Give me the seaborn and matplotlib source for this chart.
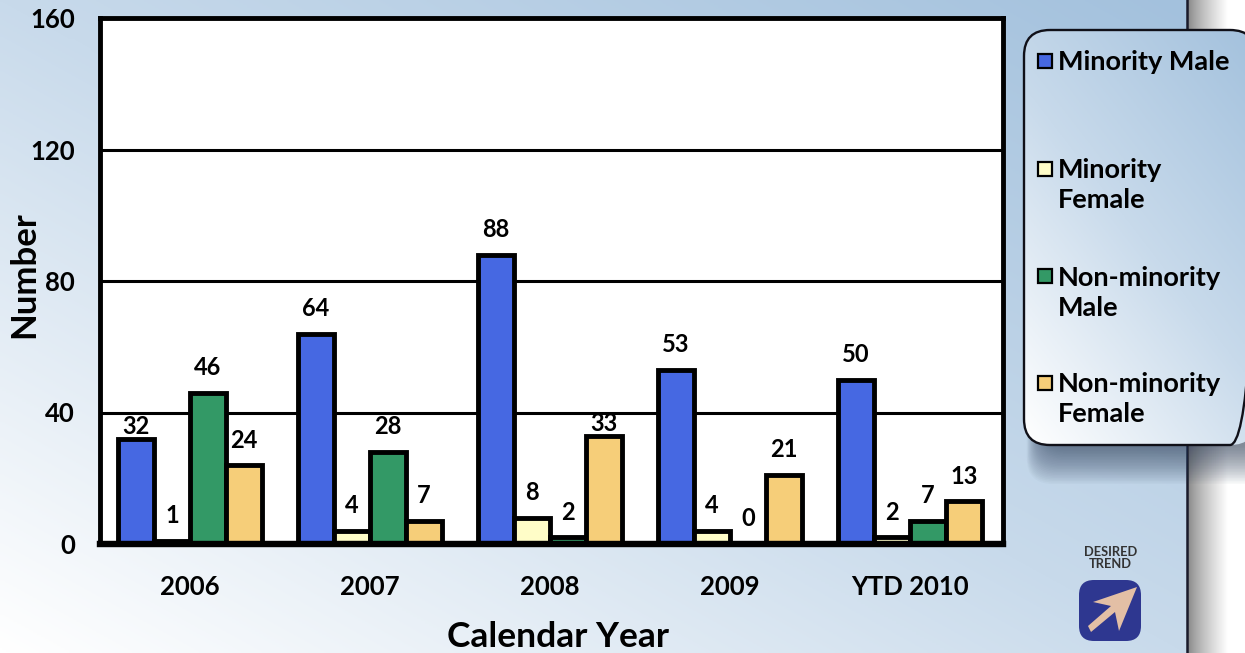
import numpy as np
import pandas as pd
import seaborn as sns
import matplotlib
matplotlib.use("Agg")
import matplotlib.pyplot as plt
from matplotlib.colors import LinearSegmentedColormap
from matplotlib.patches import FancyBboxPatch, Polygon

years = ["2006", "2007", "2008", "2009", "YTD 2010"]
minority_male = [32, 64, 88, 53, 50]
minority_female = [1, 4, 8, 4, 2]
nonminority_male = [46, 28, 2, 0, 7]
nonminority_female = [24, 7, 33, 21, 13]
series_names = ["Minority Male", "Minority Female", "Non-minority Male", "Non-minority Female"]
legend_lines = ["Minority Male", "Minority\nFemale", "Non-minority\nMale", "Non-minority\nFemale"]
colors = ["#4668E2", "#FFFDC8", "#339966", "#F6CE79"]
y_ticks = [0, 40, 80, 120, 160]

W, H = 1245, 653
sns.set_theme(style="white")
plt.rcParams["font.family"] = ["Lato", "DejaVu Sans"]
plt.rcParams["font.weight"] = "bold"

fig = plt.figure(figsize=(W / 100, H / 100), dpi=100, facecolor="white")

# Background layer in pixel coordinates
bg = fig.add_axes([0, 0, 1, 1], zorder=0)
bg.set_xlim(0, W)
bg.set_ylim(H, 0)
bg.axis("off")
grad = LinearSegmentedColormap.from_list("g", ["#FFFFFF", "#C8DAEB", "#A3C1DD"])


def gradient(x0, x1, y0, y1, wx, wy, z):
    xx, yy = np.meshgrid(np.linspace(0, 1, 300), np.linspace(0, 1, 300))
    return bg.imshow(wx * xx + wy * yy, cmap=grad, origin="lower", vmin=0, vmax=1,
                     extent=(x0, x1, y1, y0), aspect="auto", interpolation="bilinear", zorder=z)


def rounded(x0, y0, x1, y1, r, **kw):
    return FancyBboxPatch((x0, y0), x1 - x0, y1 - y0, boxstyle=f"round,pad=0,rounding_size={r}",
                          mutation_aspect=1, clip_on=False, **kw)


# Right-hand shadow of the panel
shade = np.linspace(0, 1, 200).reshape(1, -1) ** 0.75
bg.imshow(shade, cmap=LinearSegmentedColormap.from_list("s", ["#808080", "#FFFFFF"]), extent=(1187, 1228, H, 0),
          aspect="auto", zorder=0.5)

# Blue panel
gradient(0, 1186.5, 0, H, 0.5, 0.5, 1)
bg.plot([1186.5, 1186.5], [-2, H + 2], color="#1A1A2A", linewidth=1.8, zorder=2)

# Soft legend shadow
for s in np.arange(38, 0, -1.5):
    bg.add_patch(rounded(1042 - s * 0.4, 70, 1275, 446 + s, 26, facecolor="#30405A", edgecolor="none",
                         alpha=0.032, zorder=3))

leg_clip = rounded(1024, 30, 1256, 445, 26, facecolor="none", edgecolor="none", zorder=3.9)
bg.add_patch(leg_clip)
gradient(1024, 1256, 30, 445, 0.42, 0.58, 4).set_clip_path(leg_clip)
bg.add_patch(rounded(1024, 30, 1256, 445, 26, facecolor="none", edgecolor="#101018", linewidth=1.7, zorder=5))

rows = [61, 169, 276, 383]
for name, c, ry in zip(legend_lines, colors, rows):
    bg.add_patch(plt.Rectangle((1038, ry - 7), 14, 14, facecolor=c, edgecolor="black", linewidth=1.6, zorder=6))
    bg.text(1058, ry - 10.5, name, fontsize=19.5, va="top", ha="left", color="black", linespacing=1.3, zorder=6)

# Desired trend badge
bg.text(1110.5, 558, "DESIRED\nTREND", fontsize=9.3, color="#333333", ha="center", va="center", linespacing=1.1, zorder=6)
bg.add_patch(rounded(1079, 580, 1141, 641, 15, facecolor="#2E3790", edgecolor="none", zorder=6))
bg.add_patch(Polygon([(1137, 587), (1093, 602), (1111, 606), (1088, 626), (1091, 632), (1115, 612), (1119, 631)],
                     closed=True, facecolor="#E3BFA5", edgecolor="none", zorder=7))

# Main chart
df = pd.DataFrame({
    "year": np.tile(years, 4),
    "group": np.repeat(series_names, 5),
    "value": minority_male + minority_female + nonminority_male + nonminority_female,
})
ax = fig.add_axes([100 / W, 1 - 544 / H, (1003 - 100) / W, (544 - 18) / H], zorder=2, facecolor="white")
sns.barplot(data=df, x="year", y="value", hue="group", order=years, hue_order=series_names,
            palette=colors, edgecolor="black", linewidth=3.5, saturation=1, width=0.8,
            ax=ax, legend=False, zorder=3)
ax.set_xlim(-0.5, 4.517)
ax.set_ylim(0, 160)
ax.set_yticks(y_ticks)
ax.tick_params(axis="both", length=0, labelsize=18.5, labelcolor="black")
ax.tick_params(axis="x", pad=22)
ax.tick_params(axis="y", pad=18)
ax.yaxis.grid(True, color="black", linewidth=2.2, zorder=1)
ax.set_axisbelow(True)
for sp in ax.spines.values():
    sp.set_visible(True)
    sp.set_color("black")
    sp.set_linewidth(3.5)
    sp.set_zorder(6)
ax.spines["bottom"].set_linewidth(4.6)
ax.set_xlabel("Calendar Year", fontsize=25.5, color="black", fontweight="bold")
ax.set_ylabel("Number", fontsize=25, color="black", fontweight="bold")
ax.xaxis.set_label_coords((558 - 100) / 903, -(637 - 544) / 526, transform=ax.transAxes)
ax.xaxis.label.set_va("center")
ax.yaxis.set_label_coords((24 - 100) / 903, (544 - 275) / 526, transform=ax.transAxes)
ax.yaxis.label.set_va("center")

tight_labels = {32, 33}
for cont in ax.containers:
    for bar in cont:
        v = int(round(bar.get_height()))
        ax.annotate(str(v), (bar.get_x() + bar.get_width() / 2, v), xytext=(0, 9 if v in tight_labels else 18),
                    textcoords="offset points", ha="center", va="center", fontsize=17, color="black", zorder=8,
                    annotation_clip=False)

fig.savefig("out.png", dpi=100, facecolor="white")
